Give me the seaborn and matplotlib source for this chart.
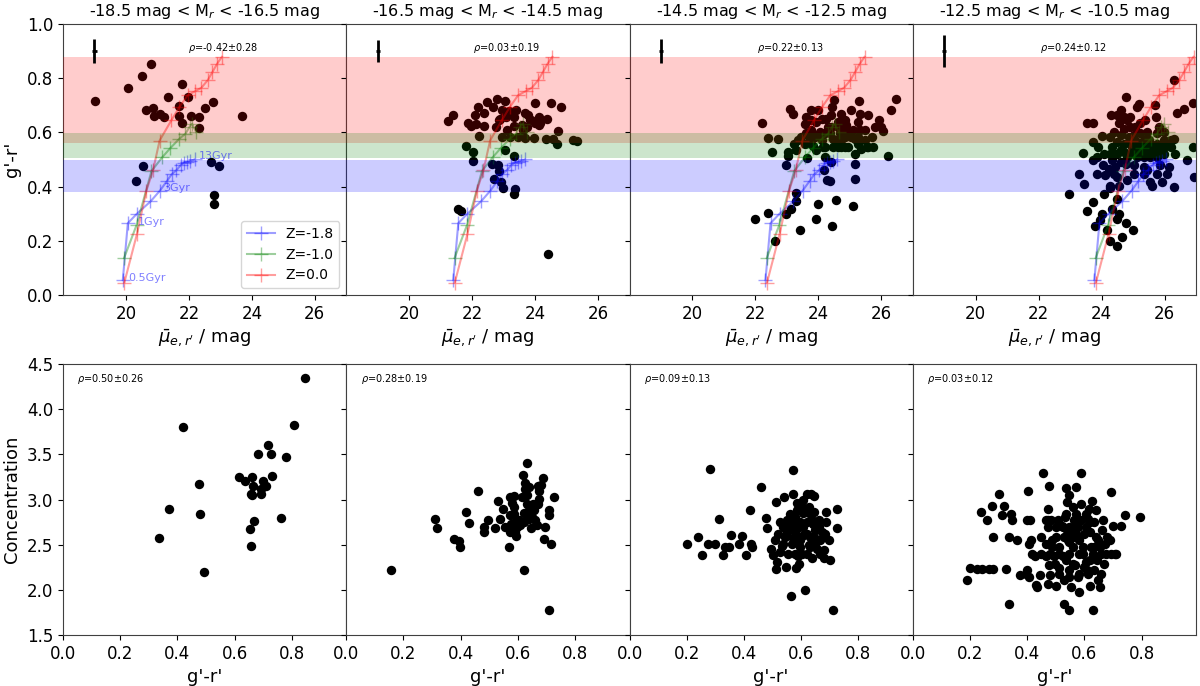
import numpy as np
import pandas as pd
import matplotlib
matplotlib.use("Agg")
import matplotlib.pyplot as plt
import seaborn as sns

# panel titles and correlation texts
titles = ["-18.5 mag < M$_r$ < -16.5 mag", "-16.5 mag < M$_r$ < -14.5 mag",
          "-14.5 mag < M$_r$ < -12.5 mag", "-12.5 mag < M$_r$ < -10.5 mag"]
rho_top = ["-0.42±0.28", "0.03±0.19", "0.22±0.13", "0.24±0.12"]
rho_bot = ["0.50±0.26", "0.28±0.19", "0.09±0.13", "0.03±0.12"]

# top row: (mean surface brightness, g'-r') per galaxy
top_pts_1 = [(19.02, 0.716), (20.06, 0.764), (20.51, 0.809), (20.79, 0.851), (20.65, 0.684),
             (20.86, 0.691), (20.88, 0.662), (21.07, 0.667), (21.22, 0.657), (21.33, 0.731),
             (21.79, 0.780), (21.68, 0.696), (21.68, 0.662), (21.79, 0.634), (21.97, 0.729),
             (22.07, 0.659), (22.31, 0.657), (22.31, 0.617), (22.52, 0.691), (22.77, 0.712),
             (23.68, 0.659), (20.31, 0.419), (20.55, 0.477), (22.70, 0.490), (22.96, 0.477),
             (22.80, 0.369), (22.80, 0.334)]
top_pts_2 = [(21.23, 0.642), (21.39, 0.666), (21.56, 0.316), (21.63, 0.309), (21.87, 0.635),
             (21.95, 0.623), (22.08, 0.666), (22.19, 0.692), (22.11, 0.630), (22.37, 0.624),
             (22.39, 0.673), (22.47, 0.713), (22.66, 0.694), (22.79, 0.724), (22.95, 0.682),
             (23.05, 0.716), (23.16, 0.679), (22.89, 0.649), (22.77, 0.620), (23.08, 0.655),
             (23.32, 0.655), (23.40, 0.682), (23.32, 0.623), (23.58, 0.626), (23.68, 0.670),
             (23.74, 0.620), (23.87, 0.647), (24.00, 0.709), (24.11, 0.657), (24.16, 0.633),
             (24.00, 0.633), (24.11, 0.626), (24.37, 0.651), (24.49, 0.707), (24.81, 0.694),
             (24.74, 0.605), (24.56, 0.577), (24.35, 0.577), (23.95, 0.580), (23.68, 0.580),
             (23.47, 0.583), (23.21, 0.583), (22.95, 0.583), (22.21, 0.586), (24.71, 0.556),
             (25.21, 0.573), (25.32, 0.568), (21.79, 0.550), (22.03, 0.528), (22.03, 0.494),
             (23.05, 0.536), (23.32, 0.513), (22.63, 0.482), (22.81, 0.478), (22.84, 0.457),
             (22.71, 0.427), (22.93, 0.417), (22.97, 0.395), (23.37, 0.392), (23.32, 0.374),
             (24.42, 0.152), (23.84, 0.645), (24.05, 0.642), (23.79, 0.663), (23.61, 0.608),
             (23.11, 0.608), (22.84, 0.645)]
top_pts_3 = [(21.98, 0.279), (22.21, 0.636), (22.40, 0.302), (22.40, 0.581), (22.72, 0.577),
             (22.53, 0.527), (22.61, 0.201), (22.96, 0.478), (23.04, 0.512), (22.96, 0.300),
             (23.14, 0.316), (23.30, 0.345), (23.28, 0.376), (23.23, 0.559), (23.30, 0.536),
             (23.11, 0.688), (23.20, 0.667), (23.43, 0.238), (23.57, 0.630), (23.62, 0.657),
             (23.65, 0.507), (23.78, 0.684), (23.76, 0.608), (23.72, 0.577), (23.83, 0.549),
             (23.94, 0.639), (23.99, 0.334), (23.92, 0.279), (24.04, 0.602), (23.99, 0.682),
             (24.15, 0.546), (24.20, 0.596), (24.25, 0.651), (24.31, 0.620), (24.41, 0.663),
             (24.44, 0.694), (24.47, 0.546), (24.50, 0.719), (24.57, 0.351), (24.43, 0.256),
             (24.62, 0.639), (24.68, 0.596), (24.73, 0.667), (24.78, 0.614), (24.84, 0.583),
             (24.89, 0.626), (24.94, 0.546), (25.05, 0.682), (25.10, 0.608), (25.15, 0.519),
             (25.15, 0.482), (25.15, 0.429), (25.10, 0.330), (25.26, 0.639), (25.29, 0.716),
             (25.31, 0.608), (25.47, 0.571), (25.53, 0.546), (25.58, 0.663), (25.69, 0.583),
             (25.74, 0.546), (25.92, 0.645), (26.00, 0.620), (26.05, 0.604), (26.21, 0.513),
             (26.32, 0.684), (26.48, 0.725), (24.18, 0.460), (24.26, 0.423), (24.36, 0.420),
             (24.41, 0.491), (23.35, 0.571), (23.04, 0.528), (24.20, 0.509), (24.47, 0.577),
             (23.78, 0.645), (24.10, 0.651), (23.88, 0.583), (24.84, 0.546), (25.26, 0.559),
             (25.36, 0.540), (25.15, 0.577), (24.73, 0.546), (23.57, 0.559), (23.46, 0.583),
             (24.20, 0.546), (23.94, 0.534), (24.57, 0.571), (25.05, 0.583), (25.47, 0.608),
             (24.84, 0.645), (24.62, 0.620), (24.36, 0.596), (23.78, 0.571), (24.41, 0.620),
             (25.58, 0.546), (25.79, 0.620), (25.26, 0.583), (24.94, 0.602), (24.62, 0.546),
             (24.10, 0.571), (23.62, 0.596), (25.31, 0.669), (23.78, 0.596), (24.73, 0.571)]
top_pts_4 = [(22.97, 0.374), (23.27, 0.445), (23.41, 0.524), (23.43, 0.411), (23.53, 0.636),
             (23.72, 0.636), (23.74, 0.343), (23.53, 0.309), (23.80, 0.256), (23.96, 0.277),
             (24.01, 0.586), (23.74, 0.565), (23.74, 0.499), (23.90, 0.546), (24.04, 0.478),
             (24.12, 0.441), (24.26, 0.404), (24.28, 0.396), (24.31, 0.663), (24.33, 0.318),
             (24.33, 0.546), (24.38, 0.522), (24.44, 0.472), (24.49, 0.435), (24.54, 0.404),
             (24.49, 0.355), (24.54, 0.300), (24.28, 0.199), (24.49, 0.180), (24.54, 0.633),
             (24.60, 0.682), (24.70, 0.614), (24.76, 0.731), (24.76, 0.265), (24.65, 0.213),
             (24.70, 0.528), (24.79, 0.485), (24.81, 0.645), (24.86, 0.583), (24.91, 0.657),
             (24.97, 0.546), (25.00, 0.238), (25.02, 0.478), (25.07, 0.620), (25.13, 0.694),
             (25.18, 0.704), (25.21, 0.522), (25.23, 0.596), (25.34, 0.546), (25.34, 0.472),
             (25.39, 0.645), (25.45, 0.460), (25.50, 0.571), (25.55, 0.509), (25.55, 0.417),
             (25.61, 0.404), (25.66, 0.540), (25.71, 0.700), (25.74, 0.657), (25.77, 0.596),
             (25.82, 0.620), (25.87, 0.478), (25.98, 0.522), (26.03, 0.559), (26.09, 0.448),
             (26.14, 0.472), (26.19, 0.546), (26.30, 0.793), (26.30, 0.398), (26.33, 0.522),
             (26.40, 0.670), (26.62, 0.688), (26.72, 0.497), (26.91, 0.707), (26.94, 0.435),
             (26.91, 0.546), (26.30, 0.577), (25.98, 0.602), (24.28, 0.522), (24.49, 0.522),
             (24.60, 0.534), (24.91, 0.522), (25.07, 0.528), (25.23, 0.540), (25.45, 0.534),
             (25.66, 0.522), (25.82, 0.534), (25.98, 0.546), (25.77, 0.509), (25.34, 0.509),
             (25.13, 0.509), (24.81, 0.509), (24.60, 0.491), (24.33, 0.497), (24.06, 0.522),
             (23.85, 0.509), (24.91, 0.571), (25.13, 0.565), (25.34, 0.571), (25.55, 0.559),
             (25.77, 0.559), (25.98, 0.571), (26.19, 0.571), (24.70, 0.559), (24.49, 0.565),
             (24.28, 0.583), (24.60, 0.589), (25.02, 0.589), (25.45, 0.602), (25.23, 0.633),
             (24.91, 0.620), (24.70, 0.657), (24.49, 0.663), (24.38, 0.602), (25.34, 0.448),
             (25.77, 0.448), (25.93, 0.417), (25.02, 0.448), (24.81, 0.423), (24.06, 0.374),
             (24.38, 0.448), (23.85, 0.448), (24.22, 0.466), (24.49, 0.281), (24.17, 0.238),
             (24.01, 0.300)]

# bottom row: (g'-r', concentration) per galaxy
bot_pts_1 = [(0.421, 3.80), (0.847, 4.35), (0.806, 3.82), (0.715, 3.60), (0.682, 3.50),
             (0.727, 3.50), (0.779, 3.47), (0.614, 3.245), (0.635, 3.20), (0.661, 3.25),
             (0.665, 3.15), (0.698, 3.21), (0.709, 3.15), (0.729, 3.26), (0.692, 3.12),
             (0.656, 3.06), (0.661, 3.05), (0.692, 3.06), (0.476, 3.17), (0.371, 2.89),
             (0.480, 2.84), (0.334, 2.57), (0.668, 2.76), (0.653, 2.67), (0.762, 2.80),
             (0.656, 2.49), (0.492, 2.20)]
bot_pts_2 = [(0.155, 2.225), (0.311, 2.78), (0.316, 2.68), (0.376, 2.56), (0.393, 2.54),
             (0.396, 2.47), (0.420, 2.86), (0.429, 2.74), (0.461, 3.09), (0.482, 2.70),
             (0.481, 2.64), (0.496, 2.77), (0.520, 2.69), (0.532, 2.98), (0.538, 2.79),
             (0.549, 2.89), (0.555, 2.70), (0.569, 2.48), (0.573, 3.03), (0.579, 2.96),
             (0.585, 3.04), (0.573, 2.83), (0.576, 2.73), (0.573, 2.64), (0.585, 2.92),
             (0.588, 2.84), (0.591, 2.75), (0.596, 2.70), (0.594, 2.60), (0.602, 2.77),
             (0.608, 2.72), (0.614, 3.03), (0.616, 3.27), (0.624, 3.18), (0.632, 3.41),
             (0.626, 3.12), (0.638, 3.14), (0.620, 2.85), (0.632, 2.95), (0.638, 2.88),
             (0.640, 2.79), (0.644, 2.68), (0.649, 2.81), (0.655, 2.88), (0.661, 2.77),
             (0.667, 2.72), (0.671, 3.15), (0.675, 3.10), (0.682, 3.16), (0.673, 3.01),
             (0.671, 2.95), (0.687, 3.24), (0.620, 2.225), (0.693, 2.70), (0.692, 2.56),
             (0.708, 2.88), (0.708, 2.83), (0.714, 2.51), (0.725, 3.03), (0.708, 1.78),
             (0.620, 2.75), (0.632, 3.05), (0.591, 2.64), (0.652, 2.95)]
bot_pts_3 = [(0.200, 2.51), (0.238, 2.59), (0.255, 2.39), (0.276, 2.51), (0.300, 2.51),
             (0.281, 3.34), (0.314, 2.79), (0.328, 2.39), (0.335, 2.48), (0.347, 2.48),
             (0.355, 2.61), (0.382, 2.51), (0.394, 2.60), (0.406, 2.39), (0.422, 2.88),
             (0.426, 2.51), (0.429, 2.47), (0.459, 3.14), (0.476, 2.80), (0.479, 2.69),
             (0.494, 2.45), (0.502, 2.39), (0.511, 2.97), (0.514, 2.31), (0.512, 2.23),
             (0.526, 2.75), (0.532, 2.49), (0.541, 3.03), (0.544, 2.59), (0.547, 2.25),
             (0.561, 2.70), (0.564, 1.93), (0.573, 3.06), (0.573, 3.33), (0.579, 2.81),
             (0.582, 2.24), (0.585, 2.96), (0.591, 2.70), (0.594, 2.29), (0.596, 2.48),
             (0.602, 2.60), (0.606, 2.99), (0.608, 2.85), (0.612, 2.00), (0.620, 3.06),
             (0.620, 2.75), (0.626, 2.92), (0.629, 2.85), (0.632, 2.48), (0.635, 3.06),
             (0.638, 2.35), (0.641, 2.73), (0.646, 3.04), (0.646, 2.59), (0.649, 2.66),
             (0.655, 2.45), (0.661, 2.70), (0.667, 2.55), (0.673, 2.64), (0.679, 2.44),
             (0.679, 2.35), (0.685, 2.75), (0.688, 2.86), (0.696, 2.55), (0.700, 2.33),
             (0.712, 1.78), (0.724, 2.90), (0.726, 2.68), (0.561, 2.84), (0.567, 2.75),
             (0.549, 2.64), (0.538, 2.51), (0.555, 2.40), (0.579, 2.40), (0.602, 2.40),
             (0.620, 2.40), (0.596, 2.75), (0.608, 2.70), (0.620, 2.62), (0.638, 2.77),
             (0.661, 2.77), (0.644, 2.86), (0.573, 2.70), (0.585, 2.55), (0.567, 2.51),
             (0.538, 2.70), (0.520, 2.62), (0.508, 2.55), (0.526, 2.42), (0.588, 2.37),
             (0.632, 2.59), (0.649, 2.51), (0.667, 2.40), (0.682, 2.62), (0.679, 2.59),
             (0.585, 2.88), (0.602, 2.92), (0.614, 2.62), (0.573, 2.57), (0.549, 2.77),
             (0.626, 2.50), (0.579, 2.64), (0.596, 2.55)]
bot_pts_4 = [(0.188, 2.11), (0.200, 2.24), (0.224, 2.23), (0.241, 2.23), (0.265, 2.23),
             (0.282, 2.23), (0.327, 2.23), (0.238, 2.86), (0.259, 2.77), (0.276, 2.93),
             (0.282, 2.59), (0.303, 3.06), (0.312, 2.83), (0.320, 2.93), (0.338, 2.59),
             (0.338, 1.84), (0.344, 2.84), (0.347, 2.77), (0.365, 2.55), (0.376, 2.17),
             (0.400, 2.22), (0.406, 2.14), (0.404, 3.09), (0.400, 2.77), (0.408, 2.77),
             (0.406, 2.51), (0.412, 2.55), (0.427, 2.38), (0.429, 2.05), (0.435, 2.03),
             (0.445, 2.17), (0.447, 2.59), (0.456, 3.29), (0.465, 2.38), (0.471, 2.89),
             (0.471, 2.77), (0.474, 2.70), (0.476, 3.15), (0.474, 2.07), (0.479, 2.16),
             (0.488, 2.55), (0.494, 2.38), (0.498, 2.29), (0.502, 2.04), (0.506, 2.77),
             (0.512, 2.48), (0.521, 2.71), (0.524, 2.38), (0.529, 2.11), (0.529, 1.84),
             (0.533, 2.81), (0.535, 3.13), (0.538, 2.97), (0.538, 2.62), (0.541, 2.55),
             (0.545, 2.22), (0.545, 1.78), (0.547, 3.05), (0.553, 2.03), (0.556, 2.68),
             (0.559, 2.47), (0.565, 2.77), (0.568, 2.27), (0.571, 3.14), (0.576, 2.14),
             (0.580, 1.98), (0.582, 2.55), (0.588, 3.29), (0.588, 2.77), (0.594, 2.48),
             (0.600, 2.62), (0.604, 2.31), (0.608, 2.22), (0.612, 2.78), (0.615, 2.90),
             (0.618, 2.64), (0.621, 2.04), (0.624, 2.48), (0.627, 2.98), (0.629, 1.78),
             (0.632, 2.75), (0.635, 2.22), (0.639, 2.59), (0.641, 2.88), (0.644, 2.33),
             (0.648, 2.55), (0.653, 2.03), (0.659, 2.40), (0.662, 2.66), (0.665, 2.77),
             (0.667, 2.29), (0.676, 2.40), (0.680, 2.59), (0.694, 3.08), (0.700, 2.71),
             (0.706, 2.40), (0.728, 2.71), (0.741, 2.83), (0.794, 2.81), (0.418, 2.40),
             (0.447, 2.40), (0.479, 2.40), (0.512, 2.40), (0.547, 2.40), (0.582, 2.40),
             (0.594, 2.40), (0.629, 2.40), (0.694, 2.40), (0.712, 2.40), (0.500, 2.59),
             (0.529, 2.59), (0.547, 2.53), (0.571, 2.62), (0.559, 2.59), (0.576, 2.70),
             (0.547, 2.70), (0.524, 2.70), (0.606, 2.70), (0.500, 2.70), (0.482, 2.77),
             (0.535, 2.84), (0.606, 2.84), (0.571, 2.84), (0.512, 2.24), (0.547, 2.14),
             (0.582, 2.18), (0.612, 2.18), (0.600, 2.25), (0.618, 2.33), (0.512, 2.18),
             (0.476, 2.27), (0.559, 2.29), (0.535, 2.33), (0.659, 2.18), (0.647, 2.11),
             (0.635, 2.48), (0.653, 2.48), (0.688, 2.55), (0.671, 2.51), (0.465, 2.51),
             (0.488, 2.48), (0.394, 2.18), (0.465, 2.77), (0.588, 2.95), (0.559, 2.92),
             (0.618, 2.75)]

top_pts = [top_pts_1, top_pts_2, top_pts_3, top_pts_4]
bot_pts = [bot_pts_1, bot_pts_2, bot_pts_3, bot_pts_4]

# model tracks as read in the first panel, shifted in mu for the other bins
trk_blue_mu = [19.90, 20.06, 20.35, 20.78, 21.08, 21.30, 21.45, 21.60, 21.75, 21.85, 21.95, 22.05, 22.18]
trk_blue_gr = [0.055, 0.265, 0.300, 0.345, 0.385, 0.420, 0.445, 0.460, 0.480, 0.488, 0.490, 0.495, 0.500]
trk_green_mu = [19.94, 20.34, 20.81, 21.16, 21.41, 21.70, 21.89, 22.02, 22.10, 22.23]
trk_green_gr = [0.136, 0.259, 0.457, 0.509, 0.542, 0.577, 0.595, 0.620, 0.632, 0.601]
trk_red_mu = [19.95, 20.35, 20.65, 20.86, 21.07, 21.44, 21.70, 21.96, 22.20, 22.40, 22.60, 22.75, 22.90, 23.05]
trk_red_gr = [0.046, 0.225, 0.385, 0.460, 0.570, 0.644, 0.694, 0.737, 0.752, 0.765, 0.793, 0.823, 0.854, 0.879]
trk_shift = [0.0, 1.50, 2.42, 3.87]
age_text = ["0.5Gyr", "1Gyr", "3Gyr", "13Gyr"]
age_mu = [20.07, 20.37, 21.17, 22.32]
age_gr = [0.061, 0.271, 0.396, 0.512]

# colour bands (3-13 Gyr range of each track)
band_lo = [0.562, 0.506, 0.381]
band_hi = [0.879, 0.597, 0.499]
band_col = ["r", "g", "b"]

err_y = [0.043, 0.042, 0.045, 0.058]

plt.rcParams["axes.edgecolor"] = "0.25"
fig, axes = plt.subplots(2, 4, figsize=(12, 6.86), dpi=100, sharex="row", sharey="row")
fig.subplots_adjust(left=0.0525, right=0.9967, top=0.965, bottom=0.0743, wspace=0, hspace=0.255)

mu_lab = r"$\bar{\mu}_{e,r^\prime}$ / mag"

for i in range(4):
    ax = axes[0, i]
    df = pd.DataFrame(top_pts[i], columns=["mu", "gr"])
    sns.scatterplot(data=df, x="mu", y="gr", color="k", s=46, linewidth=0, ax=ax, zorder=2)

    tracks = [(trk_blue_mu, trk_blue_gr, "b", "Z=-1.8"),
              (trk_green_mu, trk_green_gr, "g", "Z=-1.0"),
              (trk_red_mu, trk_red_gr, "r", "Z=0.0")]
    for mu, gr, c, lab in tracks:
        sns.lineplot(x=np.array(mu) + trk_shift[i], y=gr, sort=False, estimator=None,
                     color=c, alpha=0.38, lw=1.5, marker="+", markersize=10,
                     markeredgecolor=c, markeredgewidth=1.0, ax=ax,
                     label=lab if i == 0 else None, zorder=2)

    for lo, hi, c in zip(band_lo, band_hi, band_col):
        ax.axhspan(lo, hi, color=c, alpha=0.2, lw=0, zorder=3)

    ax.errorbar(19.0, 0.9, xerr=0.07, yerr=err_y[i], color="k", lw=2, capsize=0, zorder=4)
    ax.text(23.1, 0.912, r"$\rho$=" + rho_top[i], ha="center", va="center", fontsize=7)
    ax.set_title(titles[i], fontsize=11.5)
    ax.set_xlim(18, 27)
    ax.set_ylim(0, 1)
    ax.set_xticks([20, 22, 24, 26])
    ax.set_yticks([0.0, 0.2, 0.4, 0.6, 0.8, 1.0])
    ax.set_xlabel(mu_lab, fontsize=13)
    ax.set_ylabel("")
    ax.tick_params(labelsize=12)

    if i == 0:
        for s, x, y in zip(age_text, age_mu, age_gr):
            ax.text(x, y, s, color="b", alpha=0.5, fontsize=8, va="center", ha="left")
        ax.legend(loc="lower right", fontsize=10)
    else:
        if ax.get_legend() is not None:
            ax.get_legend().remove()

    # bottom row
    bx = axes[1, i]
    db = pd.DataFrame(bot_pts[i], columns=["gr", "conc"])
    sns.scatterplot(data=db, x="gr", y="conc", color="k", s=46, linewidth=0, ax=bx)
    bx.text(0.05, 4.34, r"$\rho$=" + rho_bot[i], ha="left", va="center", fontsize=7)
    bx.set_xlim(0, 0.99)
    bx.set_ylim(1.5, 4.5)
    bx.set_xticks([0.0, 0.2, 0.4, 0.6, 0.8])
    bx.set_yticks([1.5, 2.0, 2.5, 3.0, 3.5, 4.0, 4.5])
    bx.set_xlabel("g'-r'", fontsize=13)
    bx.set_ylabel("")
    bx.tick_params(labelsize=12)

axes[0, 0].set_ylabel("g'-r'", fontsize=13)
axes[1, 0].set_ylabel("Concentration", fontsize=13)

fig.savefig("out.png", dpi=100)
